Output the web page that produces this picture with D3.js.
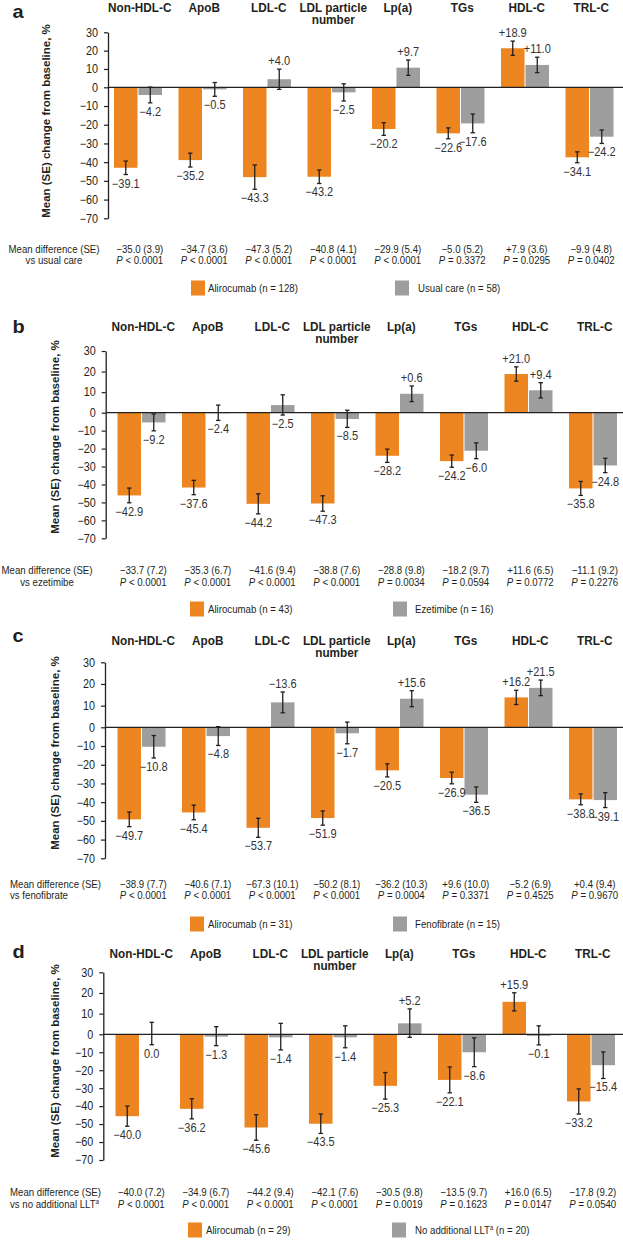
<!DOCTYPE html>
<html><head><meta charset="utf-8">
<script src="https://cdn.jsdelivr.net/npm/d3@7"></script>
<style>
body{margin:0;background:#fff}
svg{display:block}
text{font-family:"Liberation Sans",Arial,Helvetica,sans-serif;fill:#231f20}
</style>
</head><body>
<svg id="chart" width="623" height="1240"></svg>
<script>
// ---------- DATA ----------
const categories = [["Non-HDL-C"],["ApoB"],["LDL-C"],["LDL particle","number"],["Lp(a)"],["TGs"],["HDL-C"],["TRL-C"]];
const yTicks = [30,20,10,0,-10,-20,-30,-40,-50,-60,-70];
const panelLetters = ["a","b","c","d"];
const yTitle = "Mean (SE) change from baseline, %";
const comparators = ["vs usual care","vs ezetimibe","vs fenofibrate","vs no additional LLT^a"];
const legendAlirocumab = ["Alirocumab (n = 128)","Alirocumab (n = 43)","Alirocumab (n = 31)","Alirocumab (n = 29)"];
const legendComparator = ["Usual care (n = 58)","Ezetimibe (n = 16)","Fenofibrate (n = 15)","No additional LLT^a (n = 20)"];

// Panel a: alirocumab vs usual care
const aliroMeanA = [-43.0,-38.9,-48.0,-47.8,-22.3,-24.6,21.3,-37.4];
const aliroSEA   = [3.6,3.7,6.5,3.6,3.4,2.9,3.9,2.9];
const compMeanA  = [-4.1,-1.1,4.4,-2.7,10.7,-19.3,12.2,-26.4];
const compSEA    = [4.2,3.7,5.5,4.6,4.2,5.0,4.2,3.6];
const aliroLabelA = ["−39.1","−35.2","−43.3","−43.2","−20.2","−22.6","+18.9","−34.1"];
const compLabelA  = ["−4.2","−0.5","+4.0","−2.5","+9.7","−17.6","+11.0","−24.2"];
const meanDiffA = ["−35.0 (3.9)","−34.7 (3.6)","−47.3 (5.2)","−40.8 (4.1)","−29.9 (5.4)","−5.0 (5.2)","+7.9 (3.6)","−9.9 (4.8)"];
const pValueA   = ["< 0.0001","< 0.0001","< 0.0001","< 0.0001","< 0.0001","= 0.3372","= 0.0295","= 0.0402"];

// Panel b: alirocumab vs ezetimibe
const aliroMeanB = [-46.1,-41.7,-50.8,-50.6,-24.0,-27.0,18.8,-42.2];
const aliroSEB   = [4.1,4.0,5.6,4.3,3.7,3.4,3.5,3.9];
const compMeanB  = [-5.4,-0.3,3.7,-3.5,9.2,-21.2,10.9,-29.4];
const compSEB    = [4.7,4.0,5.0,4.7,3.8,4.4,3.7,4.0];
const aliroLabelB = ["−42.9","−37.6","−44.2","−47.3","−28.2","−24.2","+21.0","−35.8"];
const compLabelB  = ["−9.2","−2.4","−2.5","−8.5","+0.6","−6.0","+9.4","−24.8"];
const meanDiffB = ["−33.7 (7.2)","−35.3 (6.7)","−41.6 (9.4)","−38.8 (7.6)","−28.8 (9.8)","−18.2 (9.7)","+11.6 (6.5)","−11.1 (9.2)"];
const pValueB   = ["< 0.0001","< 0.0001","< 0.0001","< 0.0001","= 0.0034","= 0.0594","= 0.0772","= 0.2276"];

// Panel c: alirocumab vs fenofibrate
const aliroMeanC = [-49.2,-45.5,-53.7,-48.5,-23.0,-27.1,13.8,-38.5];
const aliroSEC   = [3.9,3.9,5.1,3.8,3.5,3.1,3.3,2.9];
const compMeanC  = [-10.4,-4.7,11.5,-3.2,13.2,-36.0,18.2,-38.9];
const compSEC    = [6.0,5.0,4.8,5.6,3.7,4.1,3.6,4.0];
const aliroLabelC = ["−49.7","−45.4","−53.7","−51.9","−20.5","−26.9","+16.2","−38.8"];
const compLabelC  = ["−10.8","−4.8","−13.6","−1.7","+15.6","−36.5","+21.5","−39.1"];
const meanDiffC = ["−38.9 (7.7)","−40.6 (7.1)","−67.3 (10.1)","−50.2 (8.1)","−36.2 (10.3)","+9.6 (10.0)","−5.2 (6.9)","+0.4 (9.4)"];
const pValueC   = ["< 0.0001","< 0.0001","< 0.0001","< 0.0001","= 0.0004","= 0.3371","= 0.4525","= 0.9670"];

// Panel d: alirocumab vs no additional LLT
const aliroMeanD = [-45.6,-41.5,-51.9,-49.8,-28.7,-25.4,15.7,-37.4];
const aliroSED   = [5.6,5.6,7.1,5.4,7.4,7.2,4.4,7.0];
const compMeanD  = [0.0,-1.3,-1.7,-1.7,5.3,-10.0,-0.9,-17.2];
const compSED    = [5.8,5.0,7.0,5.8,7.0,8.0,5.0,7.4];
const aliroLabelD = ["−40.0","−36.2","−45.6","−43.5","−25.3","−22.1","+15.9","−33.2"];
const compLabelD  = ["0.0","−1.3","−1.4","−1.4","+5.2","−8.6","−0.1","−15.4"];
const meanDiffD = ["−40.0 (7.2)","−34.9 (6.7)","−44.2 (9.4)","−42.1 (7.6)","−30.5 (9.8)","−13.5 (9.7)","+16.0 (6.5)","−17.8 (9.2)"];
const pValueD   = ["< 0.0001","< 0.0001","< 0.0001","< 0.0001","= 0.0019","= 0.1623","= 0.0147","= 0.0540"];

// ---------- LAYOUT (not data) ----------
const layouts = [
  {letterY:18,  headerY:12, top:32.3, zero:87.3,  bottom:218.3, axisX:108,   x0:107.5, titleX:50, titleY:121,  mdY:252.5, mdX:54, mdAnchor:"middle", legY:288,  swA:191, txA:208, swB:395, txB:418},
  {letterY:333, headerY:331,top:351,  zero:412.7, bottom:538.3, axisX:105.7, x0:111,   titleX:59, titleY:437,  mdY:574,   mdX:47, mdAnchor:"middle", legY:609,  swA:190, txA:208, swB:393, txB:415},
  {letterY:641.7,headerY:644.5, top:662.3,zero:727.3, bottom:858.3, axisX:105,   x0:111,   titleX:59, titleY:753,  mdY:887.5, mdX:10, mdAnchor:"start",  legY:924,  swA:190, txA:208, swB:393, txB:415},
  {letterY:958, headerY:957.5,  top:972.3,zero:1034.3,bottom:1160,  axisX:103.3, x0:109,   titleX:59, titleY:1061, mdY:1196,  mdX:10, mdAnchor:"start",  legY:1230, swA:188, txA:206, swB:392, txB:415}
];
const panels = [
  {am:aliroMeanA, as:aliroSEA, cm:compMeanA, cs:compSEA, al:aliroLabelA, cl:compLabelA, md:meanDiffA, pv:pValueA},
  {am:aliroMeanB, as:aliroSEB, cm:compMeanB, cs:compSEB, al:aliroLabelB, cl:compLabelB, md:meanDiffB, pv:pValueB},
  {am:aliroMeanC, as:aliroSEC, cm:compMeanC, cs:compSEC, al:aliroLabelC, cl:compLabelC, md:meanDiffC, pv:pValueC},
  {am:aliroMeanD, as:aliroSED, cm:compMeanD, cs:compSED, al:aliroLabelD, cl:compLabelD, md:meanDiffD, pv:pValueD}
];
const ORANGE = "#ED8621", GRAY = "#9E9E9E", INK = "#231f20";
const BAND = 64.5;

const svg = d3.select("#chart");

function txt(g, x, y, str, o){
  o = Object.assign({size:11, weight:"normal", anchor:"start", sx:0.92}, o||{});
  const t = g.append("text")
    .attr("transform", `translate(${x},${y}) scale(${o.sx},1)`)
    .attr("text-anchor", o.anchor)
    .style("font-size", o.size + "px")
    .style("font-weight", o.weight);
  const parts = str.split("^a");
  parts.forEach((p, i) => {
    if (p) t.append("tspan").text(p);
    if (i < parts.length - 1) t.append("tspan").attr("baseline-shift","super").style("font-size","0.6em").text("a");
  });
  return t;
}

panels.forEach((P, pi) => {
  const L = layouts[pi];
  const g = svg.append("g");
  const y = d3.scaleLinear().domain([30, 0, -70]).range([L.top, L.zero, L.bottom]);
  const x = d3.scaleBand().domain(d3.range(categories.length)).range([L.x0, L.x0 + BAND * categories.length]);
  const xs = d3.scaleBand().domain(["aliro","comp"]).range([6.5, 54.5]).paddingInner(0.04);

  // panel letter
  txt(g, 12.5, L.letterY, panelLetters[pi], {size:19, weight:"bold", sx:1.05});

  // category headers
  categories.forEach((lines, i) => {
    const t = g.append("text")
      .attr("transform", `translate(${x(i) + x.bandwidth()/2},${L.headerY}) scale(0.98,1)`)
      .attr("text-anchor","middle")
      .style("font-size","12px").style("font-weight","bold");
    lines.forEach((ln, k) => {
      t.append("tspan").attr("x", 0).attr("dy", k === 0 ? 0 : 12.5).text(ln);
    });
  });

  // y axis
  const axis = d3.axisLeft(y).tickValues(yTicks).tickSize(4).tickSizeOuter(0).tickPadding(6).tickFormat(d3.format("d"));
  const ag = g.append("g").attr("transform", `translate(${L.axisX},0)`).call(axis);
  ag.select(".domain").attr("stroke", INK).attr("stroke-width", 1.3);
  ag.selectAll(".tick line").attr("stroke", INK).attr("stroke-width", 1.2);
  ag.selectAll(".tick text")
    .attr("x", null).attr("transform", "translate(-10,0) scale(0.9,1)")
    .attr("fill", "#333").style("font-size", "12px")
    .style("font-family", '"Liberation Sans",Arial,sans-serif');

  // y title
  g.append("text")
    .attr("transform", `translate(${L.titleX},${L.titleY}) rotate(-90)`)
    .attr("text-anchor","middle")
    .style("font-size","11.5px").style("font-weight","bold")
    .text(yTitle);

  // bars
  const series = [
    {key:"aliro", mean:P.am, se:P.as, lab:P.al, color:ORANGE},
    {key:"comp",  mean:P.cm, se:P.cs, lab:P.cl, color:GRAY}
  ];
  series.forEach(s => {
    s.mean.forEach((v, i) => {
      const bx = x(i) + xs(s.key), bw = xs.bandwidth();
      g.append("rect")
        .attr("x", bx).attr("width", bw)
        .attr("y", y(Math.max(0, v))).attr("height", Math.abs(y(v) - y(0)))
        .attr("fill", s.color);
    });
  });

  // zero line
  g.append("line").attr("x1", L.axisX).attr("x2", 623).attr("y1", y(0)).attr("y2", y(0))
    .attr("stroke", INK).attr("stroke-width", 1.3);

  // error bars and value labels
  series.forEach(s => {
    s.mean.forEach((v, i) => {
      const cx = x(i) + xs(s.key) + xs.bandwidth()/2;
      const hi = y(v + s.se[i]), lo = y(v - s.se[i]);
      g.append("line").attr("x1",cx).attr("x2",cx).attr("y1",hi).attr("y2",lo).attr("stroke",INK).attr("stroke-width",1.3);
      [hi, lo].forEach(yy => g.append("line").attr("x1",cx-2.2).attr("x2",cx+2.2).attr("y1",yy).attr("y2",yy).attr("stroke",INK).attr("stroke-width",1.3));
      const above = s.lab[i].startsWith("+") || v > 5;
      const ly = above ? hi - 4 : lo + 13;
      txt(g, cx, ly, s.lab[i], {size:12, anchor:"middle", sx:0.92}).style("fill","#333");
    });
  });

  // mean difference rows
  txt(g, L.mdX, L.mdY, "Mean difference (SE)", {size:10.5, anchor:L.mdAnchor});
  txt(g, L.mdX, L.mdY + 11.5, comparators[pi], {size:10.5, anchor:L.mdAnchor});
  P.md.forEach((m, i) => {
    const cx = x(i) + x.bandwidth()/2;
    txt(g, cx, L.mdY, m, {size:10.5, anchor:"middle"});
    const t = g.append("text")
      .attr("transform", `translate(${cx},${L.mdY + 11.5}) scale(0.92,1)`)
      .attr("text-anchor","middle").style("font-size","10.5px");
    t.append("tspan").style("font-style","italic").text("P");
    t.append("tspan").text(" " + P.pv[i]);
  });

  // legend
  g.append("rect").attr("x", L.swA).attr("y", L.legY - 7.5).attr("width", 14).attr("height", 15).attr("fill", ORANGE);
  txt(g, L.txA, L.legY + 3.5, legendAlirocumab[pi], {size:10.5});
  g.append("rect").attr("x", L.swB).attr("y", L.legY - 7.5).attr("width", 14).attr("height", 15).attr("fill", GRAY);
  txt(g, L.txB, L.legY + 3.5, legendComparator[pi], {size:10.5});
});
</script>
</body></html>
